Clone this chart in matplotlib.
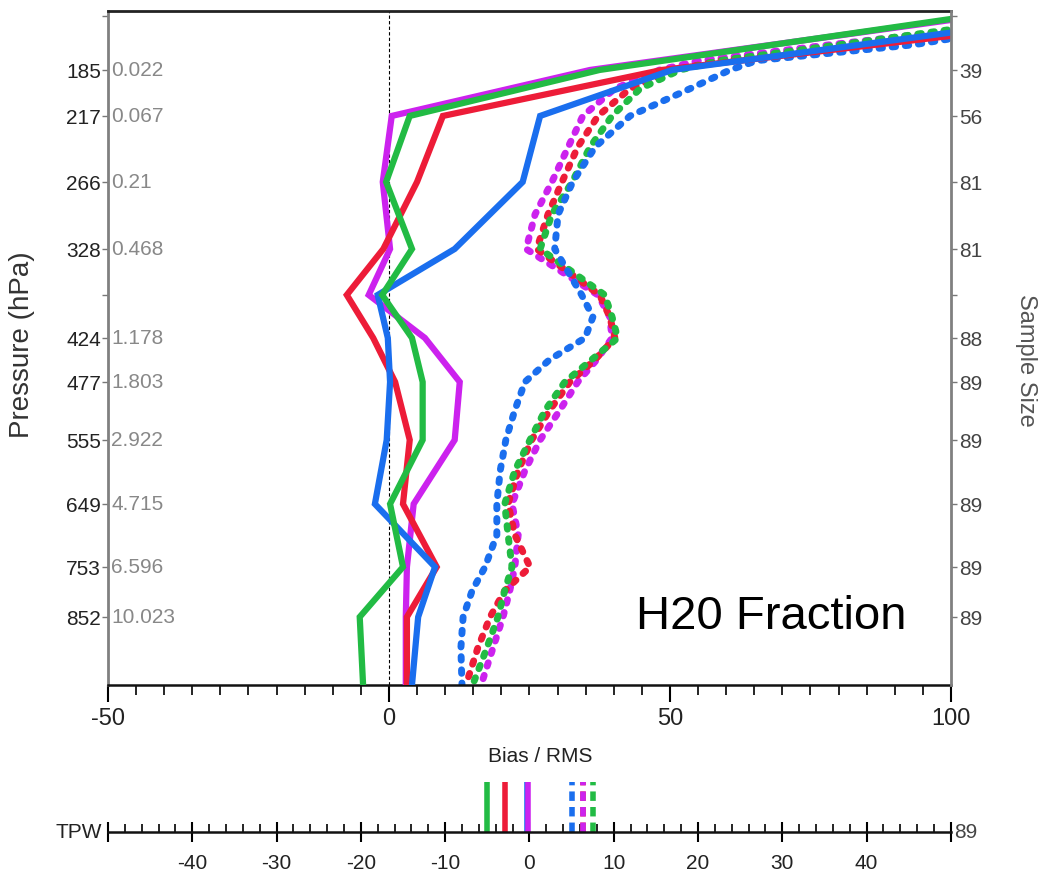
import numpy as np
import matplotlib
matplotlib.use('Agg')
import matplotlib.pyplot as plt
from matplotlib.ticker import MultipleLocator

NARROW = ['Liberation Sans Narrow', 'Liberation Sans', 'DejaVu Sans']
SANS = ['Liberation Sans', 'DejaVu Sans']
plt.rcParams['font.family'] = NARROW
plt.rcParams['axes.unicode_minus'] = False

# ─── Data ────────────────────────────────────────────────────────────────────

# pressure ticks (hPa) with left labels, mean H2O and sample size per level
tick_p = [110, 185, 217, 266, 328, 375, 424, 477, 555, 649, 753, 852]
tick_lbl = ['', '185', '217', '266', '328', '', '424', '477', '555', '649', '753', '852']
mean_h2o = ['', '0.022', '0.067', '0.21', '0.468', '', '1.178', '1.803', '2.922',
            '4.715', '6.596', '10.023']
sample_n = ['', '39', '56', '81', '81', '', '88', '89', '89', '89', '89', '89']

# vertical spacing of the level axis: plotted height of each pressure
scale_p = [104, 110, 185, 217, 266, 328, 375, 424, 477, 555, 649, 753, 852, 1000]
scale_h = [674, 669, 615, 569, 503, 436, 390, 347, 303, 245, 181, 118, 68, 0]

# bias profiles (solid)
p_bias = [110, 185, 217, 266, 328, 375, 424, 477, 555, 649, 753, 852, 1000]
red_bias = [130.1, 48.6, 9.6, 5.0, -1.0, -7.5, -2.8, 1.1, 3.7, 2.5, 8.5, 3.2, 3.2]
magenta_bias = [105.2, 35.8, 0.5, -1.1, 0.2, -3.6, 6.4, 12.6, 11.7, 4.4, 3.2, 3.0, 3.0]
green_bias = [103.7, 37.5, 3.7, -0.5, 4.1, -1.2, 4.1, 6.0, 6.0, 0.2, 2.5, -5.2, -4.6]
blue_bias = [122.1, 50.4, 26.9, 23.8, 11.7, -2.0, -0.2, 0.2, -0.4, -2.5, 8.2, 5.2, 4.1]

# rms profiles (dotted)
p_rms = [110, 150, 172, 185, 198, 217, 240, 266, 296, 328, 375, 400, 424, 450, 477,
         515, 555, 600, 649, 700, 753, 800, 852, 920, 1000]
red_rms = [128.3, 83.8, 58.9, 50.9, 42.9, 37.2, 33.6, 30.8, 28.3, 26.3, 37.5, 39.3, 40.2,
           36.7, 32.2, 28.6, 25.4, 23.0, 21.2, 22.4, 25.1, 20.6, 18.0, 15.8, 13.7]
magenta_rms = [123.0, 78.5, 55.3, 48.2, 40.2, 34.5, 31.9, 29.0, 26.0, 24.4, 37.2, 39.3, 39.7,
               37.0, 33.6, 30.4, 26.9, 24.2, 21.9, 23.0, 22.4, 21.5, 20.3, 18.5, 16.4]
green_rms = [117.6, 80.2, 58.9, 51.8, 44.7, 39.7, 35.8, 32.6, 29.0, 26.9, 38.4, 39.7, 40.7,
             36.1, 31.3, 27.8, 25.1, 22.4, 20.6, 21.2, 21.9, 20.6, 19.4, 17.4, 14.9]
blue_rms = [124.9, 93.4, 65.5, 60.7, 53.6, 42.9, 36.7, 32.7, 30.1, 29.5, 34.3, 36.3, 34.9,
            28.6, 24.2, 22.4, 20.8, 19.8, 19.2, 19.2, 17.1, 14.8, 13.2, 12.8, 13.0]

# total precipitable water bias / rms
tpw_bias = {'blue': -0.3, 'green': -5.0, 'red': -2.9, 'magenta': -0.2}
tpw_rms = {'red': 6.3, 'magenta': 6.3, 'blue': 5.0, 'green': 7.6}
tpw_n = '89'

COLORS = {'red': '#ED1C38', 'magenta': '#CC22EE', 'green': '#22BB44', 'blue': '#1A6EEE'}
DOTS = (0, (0.5, 1.4))


def _h(p):
    """Plot height of a pressure level on the uneven level axis."""
    return np.interp(p, scale_p, scale_h)


# ─── Main profile panel ──────────────────────────────────────────────────────

fig = plt.figure(figsize=(10.38, 8.78), dpi=100, facecolor='white')
ax = fig.add_axes([0.104, 0.2187, 0.8121, 0.7677])
ax.set_xlim(-50, 100)
ax.set_ylim(_h(1000), _h(104))

ax.axvline(0, color='black', lw=0.8, ls=(0, (3, 2)), zorder=1)

for name, vals in [('magenta', magenta_rms), ('red', red_rms),
                   ('green', green_rms), ('blue', blue_rms)]:
    ax.plot(vals, _h(p_rms), color=COLORS[name], lw=5, ls=DOTS,
            dash_capstyle='round', zorder=2)
for name, vals in [('magenta', magenta_bias), ('red', red_bias),
                   ('blue', blue_bias), ('green', green_bias)]:
    ax.plot(vals, _h(p_bias), color=COLORS[name], lw=4.5, solid_joinstyle='miter', zorder=3)

ax.set_yticks(_h(tick_p))
ax.set_yticklabels(tick_lbl)
ax.tick_params(axis='y', which='both', length=4, width=1, color='#777777',
               labelsize=15, labelcolor='#222222', pad=1)
ytr = ax.get_yaxis_transform()
for p, s in zip(tick_p, mean_h2o):
    ax.text(0.004, _h(p), s, transform=ytr, ha='left', va='center',
            fontsize=15, color='#888888')

ax.set_xticks([-50, 0, 50, 100])
ax.xaxis.set_minor_locator(MultipleLocator(5))
ax.tick_params(axis='x', which='major', length=12, width=1.5, labelsize=17,
               labelcolor='#222222', pad=4)
ax.tick_params(axis='x', which='minor', length=7, width=1.2)

axr = ax.twinx()
axr.set_ylim(ax.get_ylim())
axr.set_yticks(_h(tick_p))
axr.set_yticklabels(sample_n)
axr.tick_params(axis='y', length=4, width=1, color='#777777', labelsize=15,
                labelcolor='#444444', pad=2)

for name in ['top', 'bottom', 'left']:
    axr.spines[name].set_visible(False)
axr.spines['right'].set_color('#808080')
axr.spines['right'].set_linewidth(2)
ax.spines['right'].set_visible(False)
ax.spines['left'].set_color('#808080')
ax.spines['left'].set_linewidth(2)
ax.spines['top'].set_color('#222222')
ax.spines['top'].set_linewidth(2)
ax.spines['bottom'].set_color('#111111')
ax.spines['bottom'].set_linewidth(1.8)

fig.text(636 / 1038, 1 - 617 / 878, 'H20 Fraction', ha='left', va='center',
         fontsize=34, family=SANS, color='black')
fig.text(22 / 1038, 1 - 345 / 878, 'Pressure (hPa)', rotation=90, ha='center',
         va='center', fontsize=20, family=SANS, color='#333333')
fig.text(1026 / 1038, 1 - 360 / 878, 'Sample Size', rotation=270, ha='center',
         va='center', fontsize=17, family=SANS, color='#555555')
fig.text(540 / 1038, 1 - 757 / 878, 'Bias / RMS', ha='center', va='center',
         fontsize=15, color='#222222')

# ─── TPW strip ───────────────────────────────────────────────────────────────

axt = fig.add_axes([0.104, 0.0513, 0.8121, 0.0569])
axt.set_xlim(-50, 50)
axt.set_ylim(0, 1)
for name in ['top', 'left', 'right']:
    axt.spines[name].set_visible(False)
axt.spines['bottom'].set_color('#111111')
axt.spines['bottom'].set_linewidth(1.8)
axt.set_yticks([])
major = list(range(-50, 51, 10))
axt.set_xticks(major)
axt.set_xticklabels(['' if abs(v) == 50 else str(v) for v in major])
axt.xaxis.set_minor_locator(MultipleLocator(2))
axt.tick_params(axis='x', which='major', direction='inout', length=14, width=1.5,
                labelsize=15, labelcolor='#222222', pad=8)
axt.tick_params(axis='x', which='minor', direction='in', length=6, width=1.2)
axt.patch.set_alpha(0)

for name, v in tpw_bias.items():
    axt.plot([v, v], [0, 1], color=COLORS[name], lw=4, solid_capstyle='butt',
             clip_on=False)
for name, v in tpw_rms.items():
    axt.plot([v, v], [0, 1], color=COLORS[name], lw=4, ls=(0, (1.7, 1.1)),
             dash_capstyle='butt', clip_on=False)

axt.text(-0.007, 0, 'TPW', transform=axt.transAxes, ha='right', va='center',
         fontsize=15, color='#222222')
axt.text(1.004, 0, tpw_n, transform=axt.transAxes, ha='left', va='center',
         fontsize=15, color='#444444')

fig.savefig('out.png', dpi=100, facecolor='white')
